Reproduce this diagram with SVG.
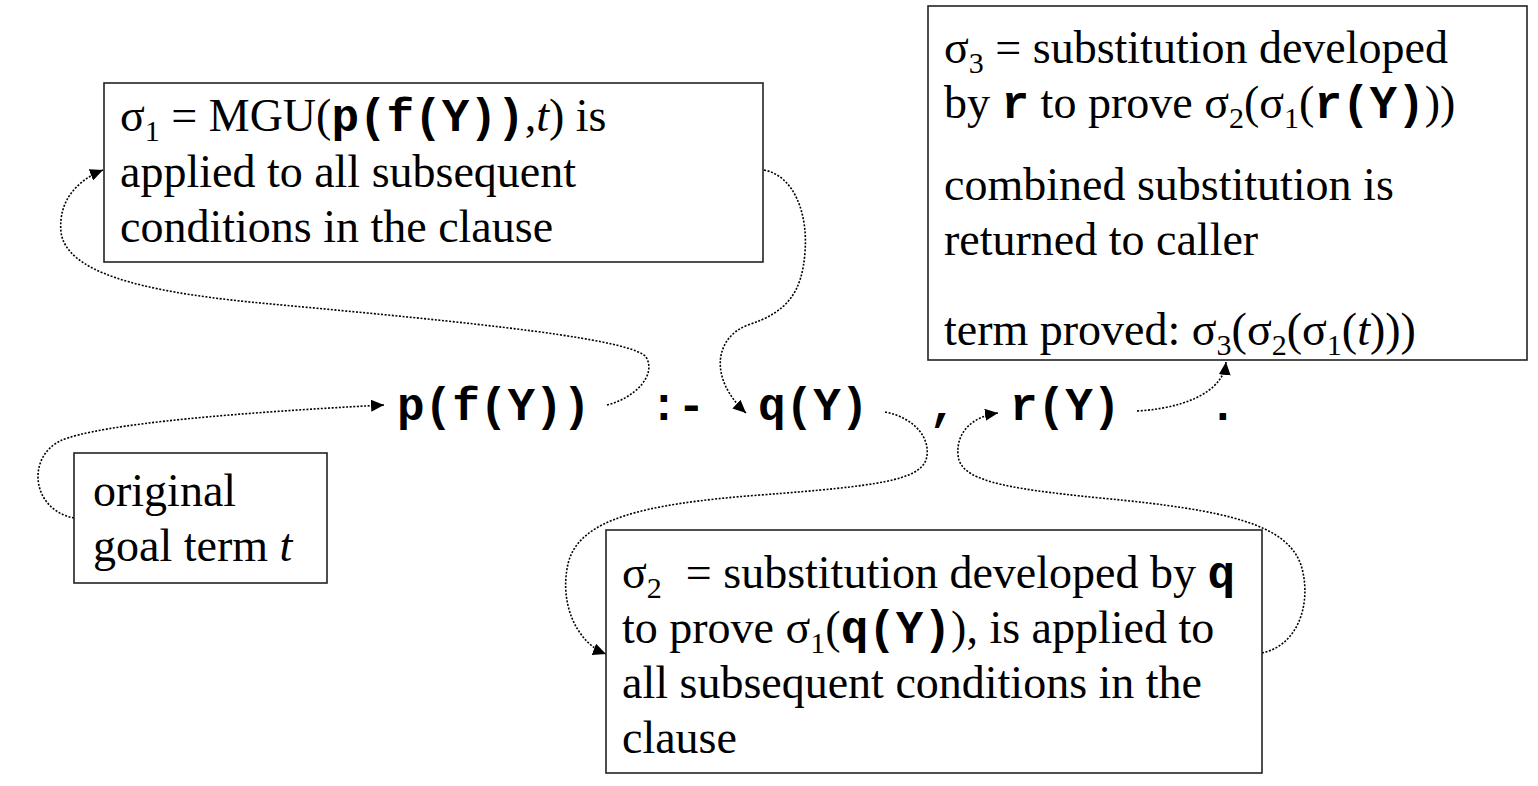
<svg xmlns="http://www.w3.org/2000/svg" width="1538" height="786" viewBox="0 0 1538 786">
<style>
.box{fill:#fff;stroke:#222;stroke-width:1.6}
.t{font-family:"Liberation Serif","Times New Roman",serif;font-size:46px;fill:#000}
.m{font-family:"Liberation Mono","Courier New",monospace;font-weight:bold}
.s{font-size:30px}
.i{font-style:italic}
.conn{fill:none;stroke:#000;stroke-width:1.6;stroke-dasharray:2 1.6}
</style>
<defs>
<marker id="ah" markerUnits="userSpaceOnUse" markerWidth="14" markerHeight="12" refX="13" refY="6" orient="auto">
<path d="M0,0 L13,6 L0,12 Z" fill="#000"/>
</marker>
</defs>
<rect width="1538" height="786" fill="#fff"/>

<g id="connectors">
<path class="conn" marker-end="url(#ah)" d="M74,518 C32,510 26,458 60,441 C100,423 250,412 384,405"/>
<path class="conn" marker-end="url(#ah)" d="M607,405 C635,398 657,375 646,357 C630,336 420,318 250,302 C140,291 66,272 61,232 C58,200 78,180 103,170"/>
<path class="conn" marker-end="url(#ah)" d="M764,170 C795,176 808,215 805,252 C802,292 788,312 748,325 C715,337 708,378 746,413"/>
<path class="conn" marker-end="url(#ah)" d="M885,412 C916,418 932,440 926,460 C918,480 880,486 760,495 C640,504 582,520 569,560 C558,600 575,642 606,654"/>
<path class="conn" marker-end="url(#ah)" d="M1262,653 C1300,645 1312,600 1301,565 C1287,525 1230,510 1100,498 C1000,488 960,480 958,455 C956,430 975,416 998,413"/>
<path class="conn" marker-end="url(#ah)" d="M1137,411 C1170,409 1198,401 1214,386 C1222,378 1225,372 1226,362"/>
</g>

<g id="clause">
<text x="397" y="420" class="t m">p(f(Y))</text>
<text x="650" y="420" class="t m">:-</text>
<text x="758" y="420" class="t m">q(Y)</text>
<text x="929" y="420" class="t m">,</text>
<text x="1010" y="420" class="t m">r(Y)</text>
<text x="1209" y="420" class="t m">.</text>
</g>

<g id="sigma1">
<rect class="box" x="104" y="83" width="659" height="179"/>
<text class="t" x="120" y="131">σ<tspan class="s" dy="10">1</tspan><tspan dy="-10"> = MGU(</tspan><tspan class="m">p(f(Y))</tspan>,<tspan class="i">t</tspan>) is</text>
<text class="t" x="120" y="187">applied to all subsequent</text>
<text class="t" x="120" y="242">conditions in the clause</text>
</g>

<g id="sigma3">
<rect class="box" x="928" y="6" width="599" height="354"/>
<text class="t" x="944" y="63">σ<tspan class="s" dy="10">3</tspan><tspan dy="-10"> = substitution developed</tspan></text>
<text class="t" x="944" y="118">by <tspan class="m">r</tspan> to prove σ<tspan class="s" dy="10">2</tspan><tspan dy="-10">(σ</tspan><tspan class="s" dy="10">1</tspan><tspan dy="-10">(</tspan><tspan class="m">r(Y)</tspan>))</text>
<text class="t" x="944" y="200">combined substitution is</text>
<text class="t" x="944" y="255">returned to caller</text>
<text class="t" x="944" y="345">term proved: σ<tspan class="s" dy="10">3</tspan><tspan dy="-10">(σ</tspan><tspan class="s" dy="10">2</tspan><tspan dy="-10">(σ</tspan><tspan class="s" dy="10">1</tspan><tspan dy="-10">(</tspan><tspan class="i">t</tspan>)))</text>
</g>

<g id="original">
<rect class="box" x="74" y="453" width="253" height="130"/>
<text class="t" x="93" y="506">original</text>
<text class="t" x="93" y="561">goal term <tspan class="i">t</tspan></text>
</g>

<g id="sigma2">
<rect class="box" x="606" y="530" width="656" height="243"/>
<text class="t" x="622" y="588">σ<tspan class="s" dy="10">2</tspan><tspan dy="-10" dx="24">= substitution developed by </tspan><tspan class="m">q</tspan></text>
<text class="t" x="622" y="643">to prove σ<tspan class="s" dy="10">1</tspan><tspan dy="-10">(</tspan><tspan class="m">q(Y)</tspan>), is applied to</text>
<text class="t" x="622" y="698">all subsequent conditions in the</text>
<text class="t" x="622" y="753">clause</text>
</g>
</svg>
